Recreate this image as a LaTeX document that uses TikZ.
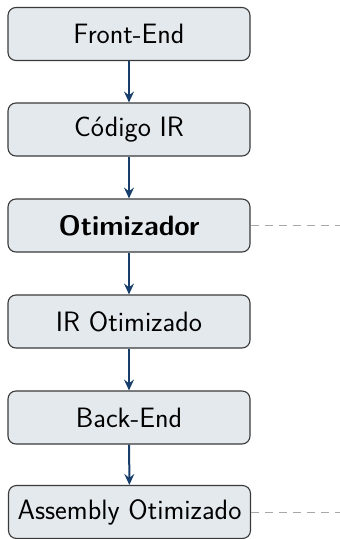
\documentclass[tikz,border=0pt]{standalone}
\usetikzlibrary{arrows.meta}
\definecolor{boxfill}{HTML}{E4E9EE}
\definecolor{boxline}{HTML}{3A3A3A}
\definecolor{flowblue}{HTML}{173D6B}
\definecolor{guide}{HTML}{A8A8A8}
\begin{document}
\begin{tikzpicture}[x=1pt,y=-1pt,
  stage/.style={draw=boxline, line width=1.1pt, fill=boxfill, rounded corners=8pt,
    minimum width=242pt, minimum height=53pt, inner xsep=9pt,
    font=\sffamily\fontsize{28}{33}\selectfont},
  flow/.style={draw=flowblue, line width=2pt, -{Stealth[length=11pt,width=10pt,inset=4pt]}},
  hint/.style={draw=guide, line width=1pt, dash pattern=on 8pt off 6pt}]
  \useasboundingbox (0,0) rectangle (340,539);
  \node[stage] (fe)  at (129,34)    {Front-End};
  \node[stage] (ir)  at (129,129.5) {Código IR};
  \node[stage] (opt) at (129,225.5) {\bfseries Otimizador};
  \node[stage] (iro) at (129,321.5) {IR Otimizado};
  \node[stage] (be)  at (129,417.5) {Back-End};
  \node[stage] (asm) at (129.5,512) {Assembly Otimizado};
  \coordinate (optend) at (345,225.5);
  \coordinate (asmend) at (345,512);
  \draw[flow] (fe) -- (ir);
  \draw[flow] (ir) -- (opt);
  \draw[flow] (opt) -- (iro);
  \draw[flow] (iro) -- (be);
  \draw[flow] (be) -- (asm);
  \draw[hint] (opt.east) -- (optend);
  \draw[hint] (asm.east) -- (asmend);
\end{tikzpicture}
\end{document}
